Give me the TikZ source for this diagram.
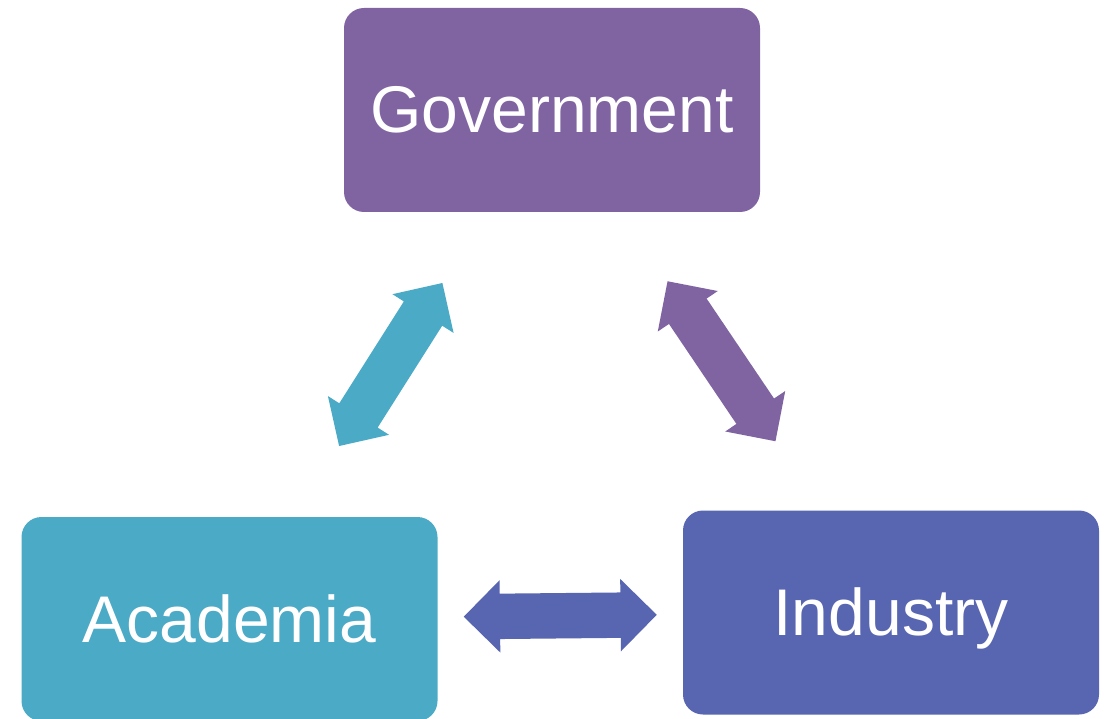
\documentclass[tikz,border=0pt]{standalone}
\usepackage{fontspec}
\setmainfont{Liberation Sans}
\usetikzlibrary{shapes.arrows}
\definecolor{govPurple}{HTML}{8064A2}
\definecolor{acadCyan}{HTML}{4BAAC6}
\definecolor{indBlue}{HTML}{5865B1}
\tikzset{%
  % Specifications for style of nodes:
            base/.style = {rectangle, rounded corners=20pt, draw=none,
                           minimum width=416, minimum height=204,
                           text centered, text=white, text height=47pt,
                           text depth=1pt, font=\fontsize{66}{79}\selectfont},
   governmentBox/.style = {base, fill=govPurple},
     academiaBox/.style = {base, fill=acadCyan},
     industryBox/.style = {base, fill=indBlue},
  % Specification for the double arrows between the blocks:
          twoWay/.style = {double arrow, draw=none, sloped, inner xsep=0pt,
                           inner ysep=22.5pt, minimum height=193,
                           minimum width=72, double arrow head extend=13.5},
}
\begin{document}
\begin{tikzpicture}[x=1pt, y=-1pt]
  \useasboundingbox (0,0) rectangle (1107,719);
  % Specification of nodes (position, etc.)
  \node (governmentBlock) [governmentBox] at (552,110)   {Government};
  \node (academiaBlock)   [academiaBox]   at (229.5,619) {Academia};
  \node (industryBlock)   [industryBox]   at (891,612.5) {Industry};
  % Double arrows halfway between the centres of the blocks
  \path (academiaBlock.center) -- node[twoWay, fill=acadCyan] {}
                                  (governmentBlock.center);
  \path (governmentBlock.center) -- node[twoWay, fill=govPurple] {}
                                    (industryBlock.center);
  \path (academiaBlock.center) -- node[twoWay, fill=indBlue] {}
                                  (industryBlock.center);
\end{tikzpicture}
\end{document}
